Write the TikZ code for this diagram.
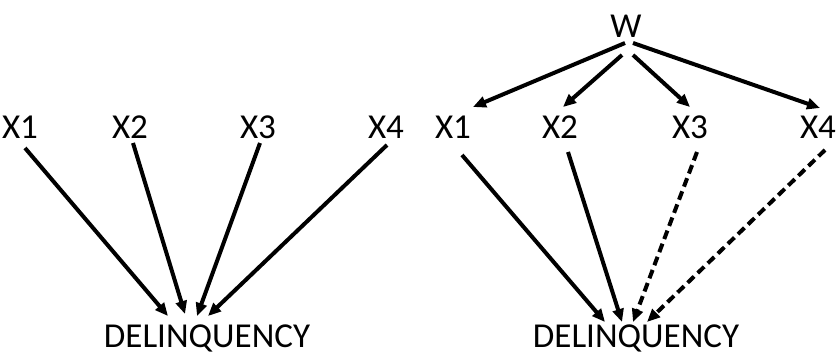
\documentclass[tikz,border=0pt]{standalone}
\usepackage{fontspec}
\setmainfont{Carlito}
\usetikzlibrary{arrows.meta}
\begin{document}
\begin{tikzpicture}[x=1pt,y=-1pt,
  lbl/.style={anchor=base,inner sep=0pt,font=\fontsize{35}{40}\selectfont},
  link/.style={line width=4pt,-{Triangle[length=13pt,width=11pt]}},
  weak/.style={link,dash pattern=on 9pt off 5pt}]
\useasboundingbox (0,0) rectangle (840,356);
% left model
\node[lbl] (a1) at (20,138) {X1};
\node[lbl] (a2) at (130,138) {X2};
\node[lbl] (a3) at (258,138) {X3};
\node[lbl] (a4) at (386,138) {X4};
\node[lbl] (ad) at (207,347) {DELINQUENCY};
\draw[link] ([shift={(5,10)}]a1.base) -- ([shift={(-39,-31)}]ad.base);
\draw[link] ([shift={(3,5)}]a2.base) -- ([shift={(-22,-33)}]ad.base);
\draw[link] ([shift={(2,5)}]a3.base) -- ([shift={(-10,-31)}]ad.base);
\draw[link] ([shift={(1,7)}]a4.base) -- ([shift={(1,-31)}]ad.base);
% right model
\node[lbl] (w) at (626,37) {W};
\node[lbl] (b1) at (453,138) {X1};
\node[lbl] (b2) at (560,138) {X2};
\node[lbl] (b3) at (690,138) {X3};
\node[lbl] (b4) at (818,138) {X4};
\node[lbl] (bd) at (636,347) {DELINQUENCY};
\draw[link] ([shift={(-1,6)}]w.base) -- ([shift={(20,-31)}]b1.base);
\draw[link] ([shift={(-4,18)}]w.base) -- ([shift={(3,-31)}]b2.base);
\draw[link] ([shift={(7,18)}]w.base) -- ([shift={(0,-31)}]b3.base);
\draw[link] ([shift={(7,6)}]w.base) -- ([shift={(2,-30)}]b4.base);
\draw[link] ([shift={(9,17)}]b1.base) -- ([shift={(-31,-25)}]bd.base);
\draw[link] ([shift={(8,14)}]b2.base) -- ([shift={(-14,-25)}]bd.base);
\draw[weak] ([shift={(7,14)}]b3.base) -- ([shift={(-3,-25)}]bd.base);
\draw[weak] ([shift={(7,12)}]b4.base) -- ([shift={(11,-25)}]bd.base);
\end{tikzpicture}
\end{document}
